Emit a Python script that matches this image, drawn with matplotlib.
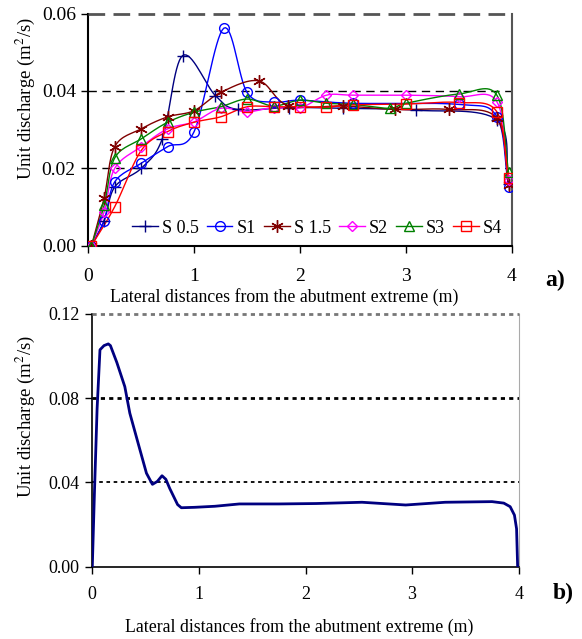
import numpy as np
import matplotlib
matplotlib.use("Agg")
import matplotlib.pyplot as plt
from matplotlib.lines import Line2D

plt.rcParams['font.family'] = ['Liberation Serif', 'DejaVu Serif']
plt.rcParams['mathtext.fontset'] = 'stix'

# ---------------- data: panel a ----------------
s05_x = [0.03, 0.15, 0.25, 0.50, 0.70, 0.89, 1.20, 1.41, 1.90, 2.41, 3.10, 3.86, 3.97]
s05_y = [0.0, 0.0065, 0.0152, 0.0200, 0.0277, 0.0491, 0.0388, 0.0352, 0.0357, 0.0355, 0.0350, 0.0325, 0.0160]

s1_x = [0.03, 0.15, 0.25, 0.50, 0.75, 1.00, 1.28, 1.50, 1.75, 2.00, 2.50, 3.50, 3.86, 3.97]
s1_y = [0.0, 0.0065, 0.0165, 0.0213, 0.0256, 0.0295, 0.0562, 0.0396, 0.0371, 0.0376, 0.0368, 0.0365, 0.0333, 0.0152]

s15_x = [0.03, 0.15, 0.25, 0.50, 0.75, 1.00, 1.25, 1.61, 1.89, 2.41, 2.90, 3.41, 3.86, 3.97]
s15_y = [0.0, 0.0124, 0.0256, 0.0302, 0.0333, 0.0349, 0.0396, 0.0426, 0.0362, 0.0361, 0.0352, 0.0352, 0.0329, 0.0157]

s2_x = [0.03, 0.15, 0.25, 0.50, 0.75, 1.00, 1.25, 1.50, 1.75, 2.00, 2.25, 2.50, 3.00, 3.50, 3.86, 3.97]
s2_y = [0.0, 0.0088, 0.0200, 0.0256, 0.0302, 0.0320, 0.0355, 0.0346, 0.0357, 0.0356, 0.0389, 0.0389, 0.0389, 0.0385, 0.0372, 0.0170]

s3_x = [0.03, 0.15, 0.25, 0.50, 0.75, 1.00, 1.25, 1.50, 1.75, 2.00, 2.25, 2.50, 2.85, 3.00, 3.50, 3.86, 3.97]
s3_y = [0.0, 0.0105, 0.0227, 0.0276, 0.0319, 0.0345, 0.0359, 0.0379, 0.0361, 0.0376, 0.0368, 0.0365, 0.0355, 0.0368, 0.0392, 0.0389, 0.0190]

s4_x = [0.03, 0.25, 0.50, 0.75, 1.00, 1.25, 1.50, 1.75, 2.00, 2.25, 2.50, 3.00, 3.50, 3.86, 3.97]
s4_y = [0.0, 0.0101, 0.0246, 0.0295, 0.0319, 0.0333, 0.0359, 0.0359, 0.0359, 0.0358, 0.0364, 0.0366, 0.0370, 0.0346, 0.0174]

series_names = ["S 0.5", "S1", "S 1.5", "S2", "S3", "S4"]

# ---------------- data: panel b ----------------
b_x = [0.0, 0.02, 0.045, 0.072, 0.11, 0.15, 0.17, 0.20, 0.23, 0.305, 0.352, 0.43, 0.508, 0.564, 0.61, 0.654, 0.69,
       0.726, 0.80, 0.835, 0.96, 1.15, 1.38, 1.75, 2.10, 2.53, 2.94, 3.31, 3.75, 3.86, 3.92, 3.96, 3.98, 3.99]
b_y = [0.0, 0.035, 0.075, 0.103, 0.105, 0.1058, 0.105, 0.101, 0.097, 0.0855, 0.0729, 0.0586, 0.0444, 0.0391, 0.0405, 0.0432, 0.0415,
       0.0372, 0.0295, 0.0280, 0.0282, 0.0287, 0.0298, 0.0298, 0.0300, 0.0306, 0.0293, 0.0306, 0.0309, 0.0302, 0.0285, 0.0245, 0.0180, 0.0]

a_yticks = [0.00, 0.02, 0.04, 0.06]
b_yticks = [0.00, 0.04, 0.08, 0.12]
x_ticks = [0, 1, 2, 3, 4]


def smooth(x, y, n=16):
    """Catmull-Rom style smoothing of the line drawn through the points."""
    P = np.column_stack([x, y]).astype(float)
    if len(P) < 3:
        return P[:, 0], P[:, 1]
    ext = np.vstack([2 * P[0] - P[1], P, 2 * P[-1] - P[-2]])
    out = []
    t = np.linspace(0, 1, n, endpoint=False)[:, None]
    for i in range(1, len(ext) - 2):
        p0, p1, p2, p3 = ext[i - 1], ext[i], ext[i + 1], ext[i + 2]
        m1 = (p2 - p0) / 2.0
        m2 = (p3 - p1) / 2.0
        h00 = 2 * t**3 - 3 * t**2 + 1
        h10 = t**3 - 2 * t**2 + t
        h01 = -2 * t**3 + 3 * t**2
        h11 = t**3 - t**2
        out.append(h00 * p1 + h10 * m1 + h01 * p2 + h11 * m2)
    out.append(P[-1][None, :])
    out = np.vstack(out)
    return out[:, 0], out[:, 1]


W, H = 582, 639
fig = plt.figure(figsize=(W / 100, H / 100), dpi=100)

# ---------------- panel a ----------------
axa = fig.add_axes([88.3 / W, 1 - 245.7 / H, (511.7 - 88.3) / W, (245.7 - 13.5) / H])
specs = [
    (s05_x, s05_y, '#000080', '+', 9, 1.0),
    (s1_x, s1_y, '#0000FF', 'o', 7, 1.0),
    (s15_x, s15_y, '#800000', (6, 2, 0), 9, 1.0),
    (s2_x, s2_y, '#FF00FF', 'D', 5.5, 1.0),
    (s3_x, s3_y, '#008000', '^', 7, 1.0),
    (s4_x, s4_y, '#FF0000', 's', 7, 1.0),
]
handles = []
for (xs, ys, c, m, ms, lw), name in zip(specs, series_names):
    sx, sy = smooth(xs, ys)
    axa.plot(sx, sy, color=c, lw=lw, zorder=3)
    axa.plot(xs, ys, ls='none', marker=m, ms=ms, mfc='none', mec=c, mew=1.0, zorder=4)
    handles.append(Line2D([], [], color=c, lw=1.0, marker=m, ms=ms, mfc='none', mec=c, mew=1.0, label=name))

axa.set_xlim(0, 4)
axa.set_ylim(0, 0.06)
axa.set_xticks(x_ticks)
axa.set_yticks(a_yticks)
axa.set_yticklabels([f"{v:.2f}" for v in a_yticks])
for v in a_yticks[1:3]:
    axa.axhline(v, color='black', lw=1.0, ls=(0, (6, 4)), zorder=1)
axa.axhline(0.06, color='#555555', lw=2.0, ls=(0, (6, 3)), zorder=5, clip_on=False)
axa.spines['top'].set_visible(False)
axa.spines['right'].set_color('#555555')
axa.spines['right'].set_linewidth(1.5)
axa.spines['left'].set_linewidth(1.5)
axa.spines['bottom'].set_linewidth(1.5)
axa.tick_params(axis='x', direction='out', length=5, width=1, pad=11, labelsize=14)
axa.tick_params(axis='y', direction='out', length=5, width=1, pad=4, labelsize=14)
axa.set_ylabel("Unit discharge (m$^2$/s)", fontsize=13.5, va='center')
axa.yaxis.set_label_coords(-0.1495, 0.632)
axa.set_xlabel("Lateral distances from the abutment extreme (m)", fontsize=12.8, va='center')
axa.xaxis.set_label_coords(0.4634, -51.3 / 232.2)
axa.legend(handles=handles, ncol=6, frameon=False, loc='center left',
           bbox_to_anchor=(44 / 423.4, 17.4 / 232.2), fontsize=13, handlelength=1.4,
           handletextpad=0.25, columnspacing=0.45, borderaxespad=0.0, borderpad=0.0)

# ---------------- panel b ----------------
axb = fig.add_axes([92.3 / W, 1 - 566.7 / H, (518.7 - 92.3) / W, (566.7 - 314) / H])
axb.plot(b_x, b_y, color='#000080', lw=2.0, zorder=3, solid_joinstyle='round')
axb.set_xlim(0, 4)
axb.set_ylim(0, 0.12)
axb.set_xticks(x_ticks)
axb.set_yticks(b_yticks)
axb.set_yticklabels([f"{v:.2f}" for v in b_yticks])
axb.axhline(0.04, color='black', lw=1.3, ls=(0, (2, 2)), zorder=1)
axb.axhline(0.08, color='black', lw=2.0, ls=(0, (1.5, 1.5)), zorder=1)
axb.axhline(0.12, color='#777777', lw=2.0, ls=(0, (1.5, 1.5)), zorder=5, clip_on=False)
axb.spines['top'].set_visible(False)
axb.spines['right'].set_color('#aaaaaa')
axb.spines['left'].set_linewidth(1.2)
axb.spines['bottom'].set_linewidth(1.2)
axb.tick_params(axis='x', direction='out', length=5, width=1, pad=9, labelsize=13)
axb.tick_params(axis='y', direction='out', length=5, width=1, pad=4, labelsize=13)
axb.set_ylabel("Unit discharge (m$^2$/s)", fontsize=13.5, va='center')
axb.yaxis.set_label_coords(-0.157, 0.596)
axb.set_xlabel("Lateral distances from the abutment extreme (m)", fontsize=12.8, va='center')
axb.xaxis.set_label_coords(0.486, -60.3 / 252.7)

fig.text(555 / W, 1 - 280 / H, "a)", fontsize=17, fontweight='bold', ha='center', va='center')
fig.text(563 / W, 1 - 593 / H, "b)", fontsize=17, fontweight='bold', ha='center', va='center')

fig.savefig("out.png", dpi=100)
